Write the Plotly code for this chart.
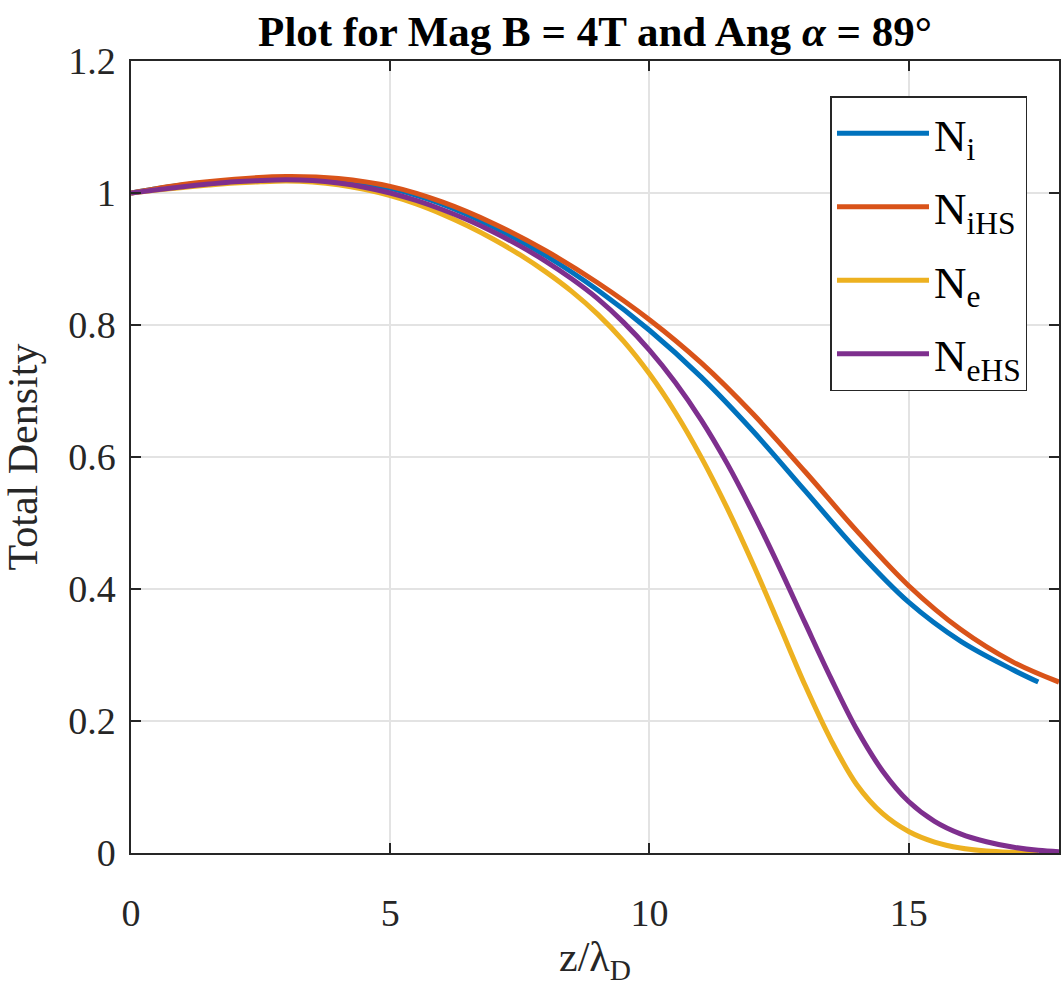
import plotly.graph_objects as go

# z / lambda_D sample positions
z_i = [0, 1, 2, 3, 4, 5, 6, 7, 8, 9, 10, 11, 12, 13, 14, 15, 16, 17, 17.5]
z_iHS = [0, 1, 2, 3, 4, 5, 6, 7, 8, 9, 10, 11, 12, 13, 14, 15, 16, 17, 17.9]
z_e = [0, 0.5, 1, 1.5, 2, 2.5, 3, 3.5, 4, 4.5, 5, 5.5, 6, 6.5, 7, 7.5, 8, 8.5,
       9, 9.5, 10, 10.5, 11, 11.5, 12, 12.5, 13, 13.5, 14, 14.5, 15, 15.5,
       16, 16.5, 17, 17.5]
z_eHS = [0, 0.5, 1, 1.5, 2, 2.5, 3, 3.5, 4, 4.5, 5, 5.5, 6, 6.5, 7, 7.5, 8, 8.5,
         9, 9.5, 10, 10.5, 11, 11.5, 12, 12.5, 13, 13.5, 14, 14.5, 15, 15.5,
         16, 16.5, 17, 17.5, 17.9]

N_i = [1.000, 1.012, 1.019, 1.022, 1.019, 1.007, 0.983, 0.948, 0.905, 0.853,
       0.792, 0.721, 0.639, 0.549, 0.459, 0.380, 0.321, 0.278, 0.259]
N_iHS = [1.000, 1.013, 1.021, 1.025, 1.022, 1.010, 0.9865, 0.9535, 0.9125, 0.864,
         0.808, 0.7425, 0.665, 0.578, 0.488, 0.405, 0.339, 0.290, 0.259]
N_e = [1.000, 1.0045, 1.0085, 1.012, 1.015, 1.017, 1.018, 1.0165, 1.0125, 1.0055,
       0.996, 0.9835, 0.968, 0.950, 0.9295, 0.9065, 0.8805, 0.851, 0.8165, 0.7755,
       0.726, 0.6675, 0.5995, 0.5225, 0.4375, 0.3465, 0.2545, 0.1715, 0.1035, 0.0595,
       0.0325, 0.0165, 0.0075, 0.003, 0.001, 0.000]
N_eHS = [1.000, 1.005, 1.0095, 1.0135, 1.017, 1.019, 1.020, 1.0188, 1.015, 1.0088,
         1.000, 0.9888, 0.975, 0.959, 0.9405, 0.9198, 0.8965, 0.870, 0.840, 0.804,
         0.762, 0.713, 0.656, 0.590, 0.515, 0.434, 0.349, 0.265, 0.187, 0.124,
         0.078, 0.048, 0.029, 0.017, 0.009, 0.004, 0.002]

series = [
    ("N<sub>i</sub>", z_i, N_i, "#0072BD"),
    ("N<sub>iHS</sub>", z_iHS, N_iHS, "#D95319"),
    ("N<sub>e</sub>", z_e, N_e, "#EDB120"),
    ("N<sub>eHS</sub>", z_eHS, N_eHS, "#7E2F8E"),
]

x_ticks = [0, 5, 10, 15]
y_ticks = [0, 0.2, 0.4, 0.6, 0.8, 1.0, 1.2]
y_tick_text = ["0", "0.2", "0.4", "0.6", "0.8", "1", "1.2"]

FONT = "Liberation Serif, Times New Roman, serif"
AX = "#262626"
GRID = "#e3e3e3"

fig = go.Figure()
for name, xs, ys, col in series:
    fig.add_trace(go.Scatter(
        x=xs, y=ys, mode="lines", name=name, legendgroup=name,
        line=dict(color=col, width=5, shape="spline", smoothing=1.0),
    ))

fig.update_layout(
    width=1061, height=990, autosize=False,
    margin=dict(l=131, r=0, t=61, b=137),
    paper_bgcolor="white", plot_bgcolor="white",
    font=dict(family=FONT, color=AX, size=38),
    title=dict(
        text="<b>Plot for Mag B = 4T and Ang <i>α</i> = 89°</b>",
        x=0.5, xref="paper", xanchor="center",
        y=1 - 31 / 990, yref="container", yanchor="middle",
        font=dict(family=FONT, size=43, color="black"),
    ),
    legend=dict(
        x=(832 - 131) / 930, y=(853 - 96) / 792,
        xanchor="left", yanchor="top",
        bgcolor="white", bordercolor=AX, borderwidth=1.5,
        font=dict(family=FONT, size=45, color="black"),
        tracegroupgap=12, itemwidth=92,
    ),
    showlegend=True,
)

fig.update_xaxes(
    range=[0, 17.9], tickvals=x_ticks, ticktext=[str(v) for v in x_ticks],
    showgrid=True, gridcolor=GRID, gridwidth=1.5,
    showline=True, linecolor=AX, linewidth=1.5, mirror="ticks",
    ticks="inside", ticklen=10, tickwidth=1.5, tickcolor=AX,
    ticklabelstandoff=26, zeroline=False,
    tickfont=dict(family=FONT, size=38, color=AX),
    title=dict(text="z/λ<sub>D</sub>", font=dict(family=FONT, size=42, color=AX), standoff=2),
)
fig.update_yaxes(
    range=[0, 1.2], tickvals=y_ticks, ticktext=y_tick_text,
    showgrid=True, gridcolor=GRID, gridwidth=1.5,
    showline=True, linecolor=AX, linewidth=1.5, mirror="ticks",
    ticks="inside", ticklen=10, tickwidth=1.5, tickcolor=AX,
    ticklabelstandoff=6, zeroline=False,
    tickfont=dict(family=FONT, size=38, color=AX),
    title=dict(text="Total Density", font=dict(family=FONT, size=42, color=AX), standoff=20),
)

fig.write_html("out.html")
